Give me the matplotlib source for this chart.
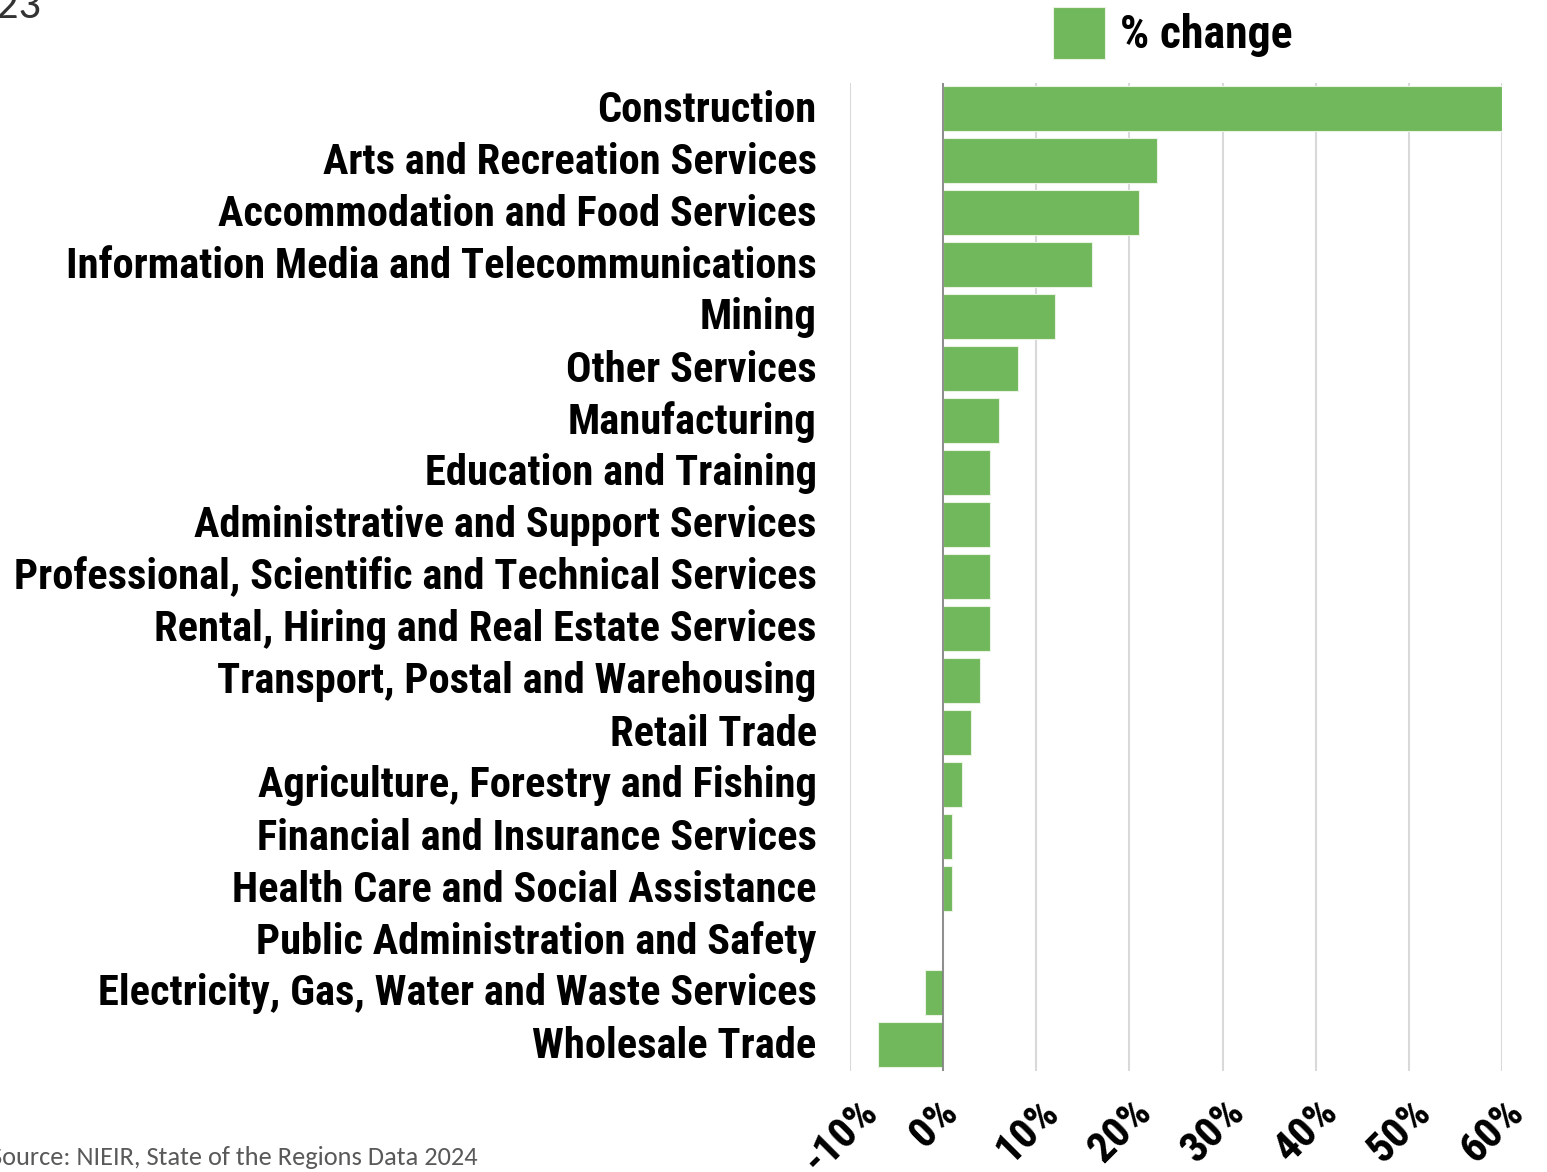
import matplotlib
matplotlib.use("Agg")
import matplotlib.pyplot as plt
import matplotlib.transforms as mtransforms
from matplotlib import font_manager
from matplotlib.ticker import FuncFormatter

# industries from top to bottom, % change
industries = [
    "Construction",
    "Arts and Recreation Services",
    "Accommodation and Food Services",
    "Information Media and Telecommunications",
    "Mining",
    "Other Services",
    "Manufacturing",
    "Education and Training",
    "Administrative and Support Services",
    "Professional, Scientific and Technical Services",
    "Rental, Hiring and Real Estate Services",
    "Transport, Postal and Warehousing",
    "Retail Trade",
    "Agriculture, Forestry and Fishing",
    "Financial and Insurance Services",
    "Health Care and Social Assistance",
    "Public Administration and Safety",
    "Electricity, Gas, Water and Waste Services",
    "Wholesale Trade",
]
pct_change = [60, 23, 21, 16, 12, 8, 6, 5, 5, 5, 5, 4, 3, 2, 1, 1, 0, -2, -7]
x_ticks = [-10, 0, 10, 20, 30, 40, 50, 60]

GREEN = "#71B75B"

installed = {f.name for f in font_manager.fontManager.ttflist}
if "Roboto Condensed" in installed:
    BOLD_FONT = ["Roboto Condensed", "DejaVu Sans"]
    scale = 1.0
else:
    BOLD_FONT = ["DejaVu Sans"]
    scale = 0.72
LIGHT_FONT = ["Carlito", "Open Sans", "DejaVu Sans"]

W, H = 1547, 1172
fig = plt.figure(figsize=(W / 100, H / 100), dpi=100)
ax = fig.add_axes([850 / W, 1 - 1070.5 / H, (1502 - 850) / W, (1070.5 - 82.5) / H])

ypos = list(range(len(industries)))
ax.barh(ypos, pct_change, height=0.87, color=GREEN, edgecolor="#e8f3e4",
        linewidth=0.8, label="% change", zorder=3)
ax.set_ylim(len(industries) - 0.5, -0.5)
ax.set_xlim(-10, 60)

ax.set_yticks(ypos)
ax.set_yticklabels(industries, fontsize=30.6 * scale, fontweight="bold", family=BOLD_FONT)
ax.tick_params(axis="y", length=0, pad=24)
# nudge labels up a touch, as in the source
up = mtransforms.ScaledTranslation(0, 3 / 100, fig.dpi_scale_trans)
for lbl in ax.get_yticklabels():
    lbl.set_transform(lbl.get_transform() + up)

ax.set_xticks(x_ticks)
ax.xaxis.set_major_formatter(FuncFormatter(lambda v, p: f"{v:.0f}%"))
ax.tick_params(axis="x", length=0, pad=15)
offset = mtransforms.ScaledTranslation(-9 / 100, 0, fig.dpi_scale_trans)
for lbl in ax.get_xticklabels():
    lbl.set_rotation(45)
    lbl.set_ha("center")
    lbl.set_fontsize(31 * scale)
    lbl.set_fontweight("bold")
    lbl.set_family(BOLD_FONT)
    lbl.set_transform(lbl.get_transform() + offset)

ax.grid(axis="x", color="#d9d9d9", linewidth=1.5, zorder=0)
ax.axvline(0, color="#7f7f7f", linewidth=1.2, zorder=4)
for s in ax.spines.values():
    s.set_visible(False)

fig.legend(loc="upper left", bbox_to_anchor=(1053 / W, 1 - 7 / H), frameon=False,
           borderpad=0, borderaxespad=0, handlelength=1.13, handleheight=1.37,
           handletextpad=0.33,
           prop={"family": BOLD_FONT, "weight": "bold", "size": 33 * scale})

fig.text(-4 / W, 1 - 18 / H, "23", fontsize=32, color="#333333",
         family=LIGHT_FONT, va="baseline", ha="left")
fig.text(-10 / W, 1 - 1165 / H, "Source: NIEIR, State of the Regions Data 2024",
         fontsize=19, color="#595959", family=LIGHT_FONT,
         va="baseline", ha="left")

fig.savefig("out.png", dpi=100)
